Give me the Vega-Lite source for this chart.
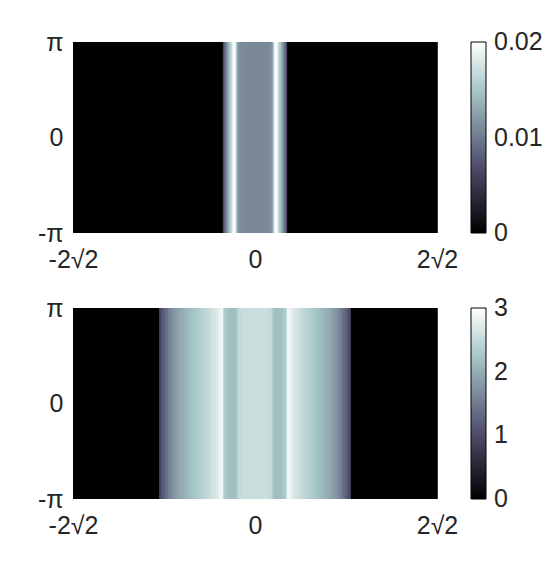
{
  "$schema": "https://vega.github.io/schema/vega-lite/v6.json",
  "background": "white",
  "padding": {"left": 37, "top": 30, "right": 5, "bottom": 5},
  "config": {
    "view": {"stroke": null},
    "font": "Liberation Sans",
    "axis": {"labelFontSize": 25, "labelColor": "#262626", "ticks": false, "domain": false, "grid": false, "labelFlush": false, "labelBound": false, "labelOverlap": false, "title": null},
    "legend": {"title": null, "orient": "none", "direction": "vertical", "legendX": 398, "legendY": 0, "gradientLength": 191, "gradientThickness": 15, "gradientStrokeColor": "black", "gradientStrokeWidth": 1, "labelFontSize": 25, "labelColor": "#262626", "labelOffset": 8, "gradientLabelOffset": 8, "labelOverlap": false}
  },
  "datasets": {
    "top": [
      {"a": -2.828427, "b": -0.5, "v": 0},
      {"a": -0.5, "b": -0.48, "v": 0.0065},
      {"a": -0.48, "b": -0.46, "v": 0.0085},
      {"a": -0.46, "b": -0.44, "v": 0.0105},
      {"a": -0.44, "b": -0.42, "v": 0.012},
      {"a": -0.42, "b": -0.4, "v": 0.0135},
      {"a": -0.4, "b": -0.38, "v": 0.015},
      {"a": -0.38, "b": -0.36, "v": 0.0165},
      {"a": -0.36, "b": -0.34, "v": 0.0185},
      {"a": -0.34, "b": -0.32, "v": 0.02},
      {"a": -0.32, "b": -0.3, "v": 0.0195},
      {"a": -0.3, "b": -0.28, "v": 0.016},
      {"a": -0.28, "b": -0.26, "v": 0.0125},
      {"a": -0.26, "b": -0.24, "v": 0.0115},
      {"a": -0.24, "b": -0.2, "v": 0.0112},
      {"a": -0.2, "b": -0.1, "v": 0.011},
      {"a": -0.1, "b": 0, "v": 0.0108},
      {"a": 0, "b": 0.1, "v": 0.0108},
      {"a": 0.1, "b": 0.2, "v": 0.011},
      {"a": 0.2, "b": 0.24, "v": 0.0112},
      {"a": 0.24, "b": 0.26, "v": 0.0115},
      {"a": 0.26, "b": 0.28, "v": 0.0125},
      {"a": 0.28, "b": 0.3, "v": 0.016},
      {"a": 0.3, "b": 0.32, "v": 0.0195},
      {"a": 0.32, "b": 0.34, "v": 0.02},
      {"a": 0.34, "b": 0.36, "v": 0.0185},
      {"a": 0.36, "b": 0.38, "v": 0.0165},
      {"a": 0.38, "b": 0.4, "v": 0.015},
      {"a": 0.4, "b": 0.42, "v": 0.0135},
      {"a": 0.42, "b": 0.44, "v": 0.012},
      {"a": 0.44, "b": 0.46, "v": 0.0105},
      {"a": 0.46, "b": 0.48, "v": 0.0085},
      {"a": 0.48, "b": 0.5, "v": 0.0065},
      {"a": 0.5, "b": 2.828427, "v": 0}
    ],
    "bot": [
      {"a": -2.828427, "b": -1.49, "v": 0},
      {"a": -1.49, "b": -1.45, "v": 0.95},
      {"a": -1.45, "b": -1.4, "v": 1.2},
      {"a": -1.4, "b": -1.35, "v": 1.4},
      {"a": -1.35, "b": -1.3, "v": 1.58},
      {"a": -1.3, "b": -1.25, "v": 1.72},
      {"a": -1.25, "b": -1.2, "v": 1.83},
      {"a": -1.2, "b": -1.15, "v": 1.92},
      {"a": -1.15, "b": -1.1, "v": 2.0},
      {"a": -1.1, "b": -1.05, "v": 2.07},
      {"a": -1.05, "b": -1.0, "v": 2.13},
      {"a": -1.0, "b": -0.95, "v": 2.2},
      {"a": -0.95, "b": -0.9, "v": 2.27},
      {"a": -0.9, "b": -0.85, "v": 2.32},
      {"a": -0.85, "b": -0.8, "v": 2.38},
      {"a": -0.8, "b": -0.75, "v": 2.43},
      {"a": -0.75, "b": -0.7, "v": 2.5},
      {"a": -0.7, "b": -0.65, "v": 2.58},
      {"a": -0.65, "b": -0.6, "v": 2.65},
      {"a": -0.6, "b": -0.56, "v": 2.75},
      {"a": -0.56, "b": -0.52, "v": 2.85},
      {"a": -0.52, "b": -0.5, "v": 2.95},
      {"a": -0.5, "b": -0.48, "v": 2.5},
      {"a": -0.48, "b": -0.44, "v": 2.3},
      {"a": -0.44, "b": -0.4, "v": 2.2},
      {"a": -0.4, "b": -0.36, "v": 2.15},
      {"a": -0.36, "b": -0.32, "v": 2.15},
      {"a": -0.32, "b": -0.28, "v": 2.2},
      {"a": -0.28, "b": -0.26, "v": 2.35},
      {"a": -0.26, "b": -0.2, "v": 2.5},
      {"a": -0.2, "b": -0.1, "v": 2.55},
      {"a": -0.1, "b": 0, "v": 2.55},
      {"a": 0, "b": 0.1, "v": 2.55},
      {"a": 0.1, "b": 0.2, "v": 2.55},
      {"a": 0.2, "b": 0.26, "v": 2.5},
      {"a": 0.26, "b": 0.28, "v": 2.35},
      {"a": 0.28, "b": 0.32, "v": 2.2},
      {"a": 0.32, "b": 0.36, "v": 2.15},
      {"a": 0.36, "b": 0.4, "v": 2.15},
      {"a": 0.4, "b": 0.44, "v": 2.2},
      {"a": 0.44, "b": 0.48, "v": 2.3},
      {"a": 0.48, "b": 0.5, "v": 2.5},
      {"a": 0.5, "b": 0.52, "v": 2.95},
      {"a": 0.52, "b": 0.56, "v": 2.85},
      {"a": 0.56, "b": 0.6, "v": 2.75},
      {"a": 0.6, "b": 0.65, "v": 2.65},
      {"a": 0.65, "b": 0.7, "v": 2.58},
      {"a": 0.7, "b": 0.75, "v": 2.5},
      {"a": 0.75, "b": 0.8, "v": 2.43},
      {"a": 0.8, "b": 0.85, "v": 2.38},
      {"a": 0.85, "b": 0.9, "v": 2.32},
      {"a": 0.9, "b": 0.95, "v": 2.27},
      {"a": 0.95, "b": 1.0, "v": 2.2},
      {"a": 1.0, "b": 1.05, "v": 2.13},
      {"a": 1.05, "b": 1.1, "v": 2.07},
      {"a": 1.1, "b": 1.15, "v": 2.0},
      {"a": 1.15, "b": 1.2, "v": 1.92},
      {"a": 1.2, "b": 1.25, "v": 1.83},
      {"a": 1.25, "b": 1.3, "v": 1.72},
      {"a": 1.3, "b": 1.35, "v": 1.58},
      {"a": 1.35, "b": 1.4, "v": 1.4},
      {"a": 1.4, "b": 1.45, "v": 1.2},
      {"a": 1.45, "b": 1.49, "v": 0.95},
      {"a": 1.49, "b": 2.828427, "v": 0}
    ]
  },
  "spacing": 24,
  "resolve": {"scale": {"color": "independent"}, "legend": {"color": "independent"}},
  "vconcat": [
    {
      "width": 364, "height": 191,
      "data": {"name": "top"},
      "mark": {"type": "rect", "x2Offset": 0.8},
      "encoding": {
        "x": {"field": "a", "type": "quantitative", "scale": {"domain": [-2.828427, 2.828427], "nice": false, "zero": false}, "axis": {"values": [-2.828427, 0, 2.828427], "labelExpr": "datum.value < -1 ? '-2√2' : datum.value > 1 ? '2√2' : '0'", "labelPadding": 14}},
        "x2": {"field": "b"},
        "y": {"datum": -3.14159265, "type": "quantitative", "scale": {"domain": [-3.14159265, 3.14159265], "nice": false, "zero": false}, "axis": {"values": [-3.14159265, 0, 3.14159265], "labelExpr": "datum.value > 1 ? 'π' : datum.value < -1 ? '-π' : '0'", "labelPadding": 10, "labelBaseline": "middle"}},
        "y2": {"datum": 3.14159265},
        "color": {"field": "v", "type": "quantitative", "scale": {"domain": [0, 0.0075, 0.015, 0.02], "range": ["#000000", "#545474", "#a7c7c7", "#ffffff"], "interpolate": "rgb"}, "legend": {"type": "gradient", "labelOffset": 8, "values": [0, 0.01, 0.02], "labelExpr": "datum.value == 0 ? '0' : format(datum.value, '.2f')", "encode": {"labels": {"update": {"baseline": {"value": "middle"}}}}}}
      }
    },
    {
      "width": 364, "height": 191,
      "data": {"name": "bot"},
      "mark": {"type": "rect", "x2Offset": 0.8},
      "encoding": {
        "x": {"field": "a", "type": "quantitative", "scale": {"domain": [-2.828427, 2.828427], "nice": false, "zero": false}, "axis": {"values": [-2.828427, 0, 2.828427], "labelExpr": "datum.value < -1 ? '-2√2' : datum.value > 1 ? '2√2' : '0'", "labelPadding": 14}},
        "x2": {"field": "b"},
        "y": {"datum": -3.14159265, "type": "quantitative", "scale": {"domain": [-3.14159265, 3.14159265], "nice": false, "zero": false}, "axis": {"values": [-3.14159265, 0, 3.14159265], "labelExpr": "datum.value > 1 ? 'π' : datum.value < -1 ? '-π' : '0'", "labelPadding": 10, "labelBaseline": "middle"}},
        "y2": {"datum": 3.14159265},
        "color": {"field": "v", "type": "quantitative", "scale": {"domain": [0, 1.125, 2.25, 3], "range": ["#000000", "#545474", "#a7c7c7", "#ffffff"], "interpolate": "rgb"}, "legend": {"type": "gradient", "labelOffset": 8, "values": [0, 1, 2, 3], "labelExpr": "format(datum.value, 'd')", "encode": {"labels": {"update": {"baseline": {"value": "middle"}}}}}}
      }
    }
  ]
}
